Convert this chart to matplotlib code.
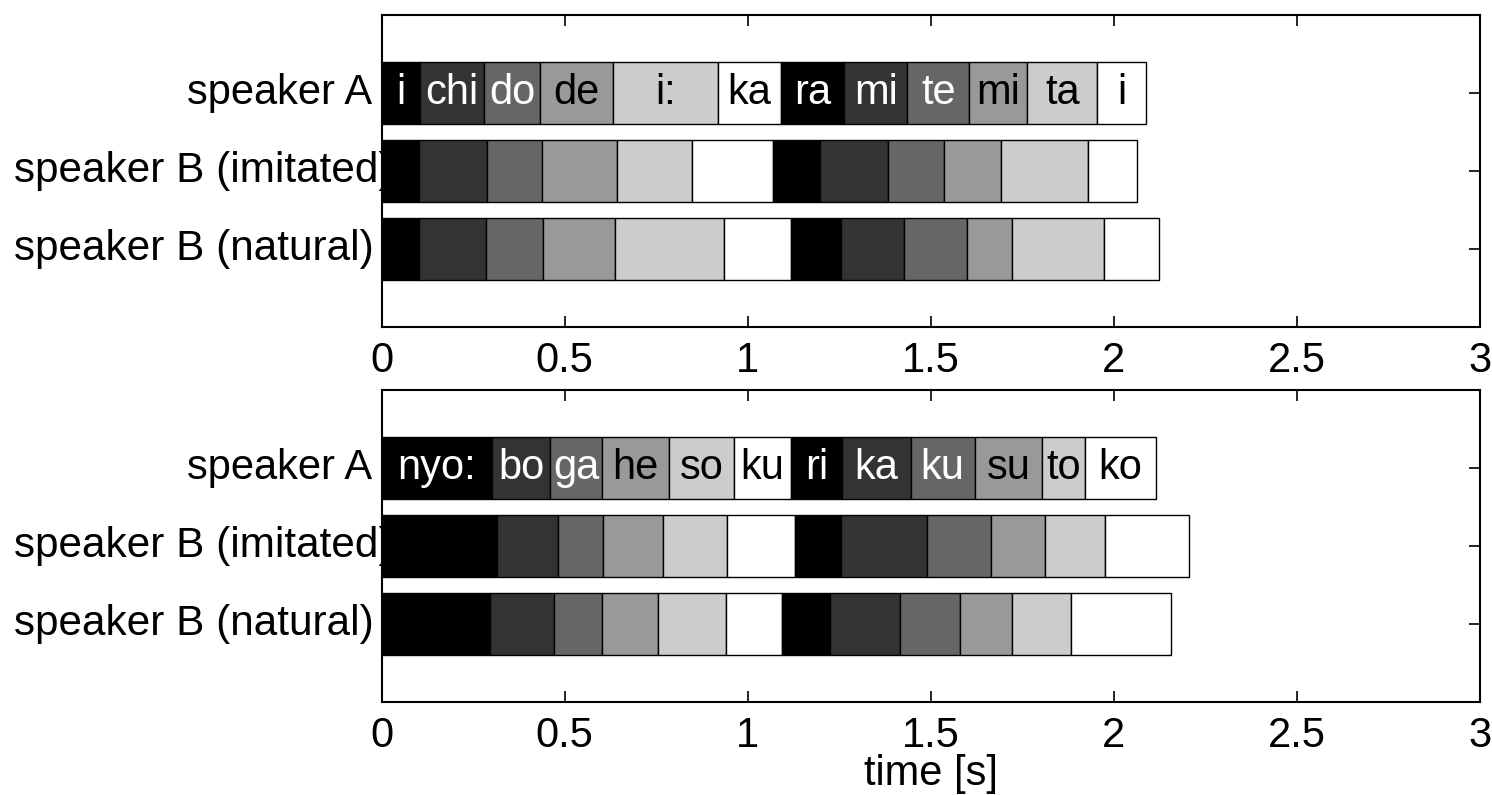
import matplotlib.pyplot as plt
import matplotlib.transforms as mtransforms
import numpy as np

plt.rcParams['font.family'] = ['Liberation Sans', 'DejaVu Sans']

rows = ['speaker A', 'speaker B (imitated)', 'speaker B (natural)']

# sentence 1: "ichido i: ka ramitemitai"
syll_1 = ['i', 'chi', 'do', 'de', 'i:', 'ka', 'ra', 'mi', 'te', 'mi', 'ta', 'i']
ends_1_a = [0.105, 0.281, 0.433, 0.633, 0.918, 1.090, 1.263, 1.436, 1.605, 1.764, 1.955, 2.089]
ends_1_imit = [0.102, 0.287, 0.437, 0.644, 0.847, 1.068, 1.198, 1.382, 1.536, 1.692, 1.929, 2.063]
ends_1_nat = [0.103, 0.285, 0.442, 0.637, 0.935, 1.117, 1.254, 1.427, 1.598, 1.722, 1.972, 2.123]

# sentence 2: "nyo: bogahesoku rikakusutoko"
syll_2 = ['nyo:', 'bo', 'ga', 'he', 'so', 'ku', 'ri', 'ka', 'ku', 'su', 'to', 'ko']
ends_2_a = [0.301, 0.461, 0.603, 0.785, 0.963, 1.118, 1.258, 1.445, 1.620, 1.805, 1.921, 2.116]
ends_2_imit = [0.316, 0.481, 0.605, 0.770, 0.944, 1.130, 1.255, 1.491, 1.665, 1.813, 1.975, 2.204]
ends_2_nat = [0.297, 0.471, 0.601, 0.756, 0.940, 1.093, 1.225, 1.415, 1.580, 1.721, 1.883, 2.155]

grays = [0.0, 0.2, 0.4, 0.6, 0.8, 1.0]
xticks = [0, 0.5, 1, 1.5, 2, 2.5, 3]
FS = 30

fig = plt.figure(figsize=(14.92, 7.95), dpi=100)
ax1 = fig.add_axes([0.2557, 0.5887, 0.7363, 0.3925])
ax2 = fig.add_axes([0.2557, 0.1170, 0.7363, 0.3925])

def draw(ax, syll, series):
    ypos = [3, 2, 1]
    for r, ends in enumerate(series):
        starts = [0] + ends[:-1]
        widths = np.diff([0] + ends)
        cols = [str(grays[i % 6]) for i in range(len(ends))]
        ax.barh(ypos[r], widths, left=starts, height=0.8, color=cols,
                edgecolor='black', linewidth=1.0, zorder=3)
        if r == 0:
            for i, s in enumerate(syll):
                tc = 'white' if grays[i % 6] < 0.5 else 'black'
                ax.text(starts[i] + widths[i] / 2, ypos[r], s, ha='center',
                        va='center', fontsize=FS, color=tc, zorder=4)
    # row names: the long ones start at the left margin and may run under the bars
    trans = mtransforms.blended_transform_factory(fig.transFigure, ax.transData)
    ax.text(372 / 1492, ypos[0], rows[0], transform=trans, ha='right',
            va='center', fontsize=FS, clip_on=False, zorder=2)
    for r in (1, 2):
        ax.text(14 / 1492, ypos[r], rows[r], transform=trans, ha='left',
                va='center', fontsize=FS + 0.4, clip_on=False, zorder=2)
    ax.set_xlim(0, 3)
    ax.set_ylim(0, 4)
    ax.set_yticks(ypos)
    ax.set_yticklabels([])
    ax.set_xticks(xticks)
    ax.set_xticklabels(['0', '0.5', '1', '1.5', '2', '2.5', '3'], fontsize=FS)
    ax.tick_params(direction='in', length=8, width=1.2, top=True, right=True,
                   pad=10)
    for sp in ax.spines.values():
        sp.set_linewidth(1.5)
        sp.set_zorder(5)

draw(ax1, syll_1, [ends_1_a, ends_1_imit, ends_1_nat])
draw(ax2, syll_2, [ends_2_a, ends_2_imit, ends_2_nat])
ax2.set_xlabel('time [s]', fontsize=FS, labelpad=-1)

fig.savefig('out.png', dpi=100)
